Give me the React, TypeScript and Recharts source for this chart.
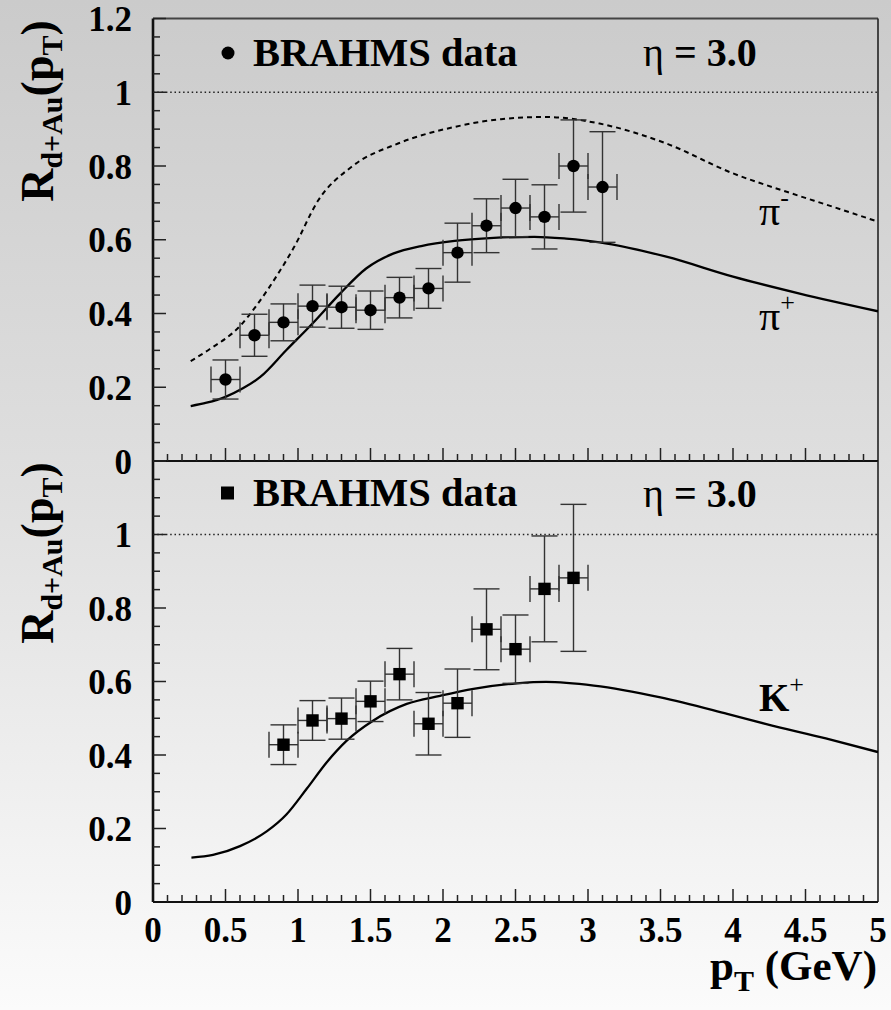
import React from "react";
import { ComposedChart, Line, Scatter, ErrorBar, XAxis, YAxis, ReferenceLine } from "recharts";

// BRAHMS pion points (eta = 3.0)
const pionPt = [0.5, 0.7, 0.9, 1.1, 1.3, 1.5, 1.7, 1.9, 2.1, 2.3, 2.5, 2.7, 2.9, 3.1];
const pionR = [0.221, 0.341, 0.376, 0.42, 0.417, 0.409, 0.443, 0.468, 0.565, 0.638, 0.686, 0.662, 0.8, 0.743];
const pionErr = [0.053, 0.057, 0.05, 0.057, 0.057, 0.052, 0.055, 0.054, 0.08, 0.073, 0.078, 0.087, 0.125, 0.15];

// BRAHMS kaon points
const kaonPt = [0.9, 1.1, 1.3, 1.5, 1.7, 1.9, 2.1, 2.3, 2.5, 2.7, 2.9];
const kaonR = [0.428, 0.494, 0.499, 0.546, 0.62, 0.485, 0.541, 0.742, 0.688, 0.852, 0.882];
const kaonErr = [0.054, 0.054, 0.056, 0.055, 0.07, 0.085, 0.093, 0.11, 0.093, 0.144, 0.2];

const binHalfWidth = 0.1;

// theory curves
const piPlusPt = [0.26, 0.37, 0.5, 0.62, 0.74, 0.92, 1.1, 1.29, 1.47, 1.66, 1.85, 2.08, 2.35, 2.63, 2.85, 3.08, 3.54, 4.0, 4.46, 5.0];
const piPlusR = [0.149, 0.158, 0.174, 0.197, 0.228, 0.301, 0.373, 0.454, 0.522, 0.563, 0.583, 0.597, 0.605, 0.608, 0.603, 0.593, 0.554, 0.5, 0.454, 0.406];

const piMinusPt = [0.26, 0.39, 0.6, 0.72, 0.85, 0.97, 1.14, 1.37, 1.69, 2.08, 2.4, 2.71, 3.08, 3.54, 4.0, 4.37, 4.7, 5.0];
const piMinusR = [0.271, 0.303, 0.366, 0.425, 0.5, 0.578, 0.707, 0.798, 0.861, 0.906, 0.927, 0.933, 0.915, 0.861, 0.78, 0.73, 0.688, 0.649];

const kPlusPt = [0.265, 0.414, 0.6, 0.784, 0.92, 1.06, 1.2, 1.336, 1.52, 1.75, 1.98, 2.21, 2.51, 2.71, 3.04, 3.5, 3.96, 4.23, 4.64, 5.0];
const kPlusR = [0.121, 0.128, 0.152, 0.192, 0.238, 0.308, 0.381, 0.439, 0.494, 0.539, 0.561, 0.58, 0.595, 0.599, 0.589, 0.557, 0.512, 0.484, 0.445, 0.408];

const xTickLabels = ["0", "0.5", "1", "1.5", "2", "2.5", "3", "3.5", "4", "4.5", "5"];
const yTickLabels = ["0", "0.2", "0.4", "0.6", "0.8", "1", "1.2"];

const xTicks = Array.from({ length: 51 }, (_, i) => i / 10);
const yTicks = Array.from({ length: 25 }, (_, i) => i / 20);

const FONT = "'Liberation Serif', 'Times New Roman', serif";
const AXIS = "#111";
const TICK = "#222";

const points = (xs: number[], ys: number[], errs: number[]) =>
  xs.map((x, i) => ({ x, y: ys[i], ey: errs[i], ex: binHalfWidth }));
const curve = (xs: number[], ys: number[]) => xs.map((x, i) => ({ x, y: ys[i] }));

// ticks point inward: tick line drawn up from the axis, label below
const renderXTick = (labels: boolean) => (props: any) => {
  const x = Number(props.x);
  const y = Number(props.y);
  const idx = Math.round(props.payload.value * 10);
  const major = idx % 5 === 0;
  const edge = idx === 0 || idx === 50;
  return (
    <g key={`xt-${idx}`}>
      {!edge && <line x1={x} y1={y} x2={x} y2={y - (major ? 13 : 7)} stroke={TICK} strokeWidth={1.5} />}
      {labels && major ? (
        <text x={x} y={y + 40} textAnchor="middle" fontFamily={FONT} fontWeight="bold" fontSize={35} fill="#000">
          {xTickLabels[idx / 5]}
        </text>
      ) : null}
    </g>
  );
};

const renderYTick = (maxLabel: number) => (props: any) => {
  const x = Number(props.x);
  const y = Number(props.y);
  const idx = Math.round(props.payload.value * 20);
  const major = idx % 4 === 0;
  return (
    <g key={`yt-${idx}`}>
      {idx > 0 && <line x1={x} y1={y} x2={x + (major ? 13 : 7)} y2={y} stroke={TICK} strokeWidth={1.5} />}
      {major && idx / 4 <= maxLabel ? (
        <text x={x - 21} y={y} dy="0.36em" textAnchor="end" fontFamily={FONT} fontWeight="bold" fontSize={35} fill="#000">
          {yTickLabels[idx / 4]}
        </text>
      ) : null}
    </g>
  );
};

const dot = (p: any) => <circle cx={p.cx} cy={p.cy} r={6.2} fill="#000" />;
const square = (p: any) => <rect x={p.cx - 6.2} y={p.cy - 6.2} width={12.4} height={12.4} fill="#000" />;

const Panel = ({ top, height, margin, labelsX, maxLabel, topBorder, children }: any) => (
  <div style={{ position: "absolute", left: 0, top, width: 891, height }}>
    <ComposedChart width={891} height={height} margin={margin}>
      <XAxis
        type="number"
        dataKey="x"
        domain={[0, 5]}
        ticks={xTicks}
        interval={0}
        height={1}
        tickSize={0}
        tickMargin={0}
        tickLine={false}
        axisLine={{ stroke: AXIS, strokeWidth: 2.2 }}
        tick={renderXTick(labelsX)}
        allowDataOverflow
      />
      <YAxis
        type="number"
        dataKey="y"
        domain={[0, 1.2]}
        ticks={yTicks}
        interval={0}
        width={1}
        tickSize={0}
        tickMargin={0}
        tickLine={false}
        axisLine={{ stroke: AXIS, strokeWidth: 2.6 }}
        tick={renderYTick(maxLabel)}
        allowDataOverflow
      />
      <ReferenceLine y={1} stroke="#222" strokeWidth={1.6} strokeDasharray="1.5 2.8" />
      {topBorder && <ReferenceLine y={1.2} stroke="#444" strokeWidth={2} />}
      <ReferenceLine x={5} stroke="#222" strokeWidth={1.6} />
      {children}
    </ComposedChart>
  </div>
);

export default function App() {
  return (
    <div
      style={{
        position: "absolute",
        left: 0,
        top: 0,
        width: 891,
        height: 1010,
        background: "linear-gradient(to bottom, #cbcbcb 0%, #e0e0e0 50%, #fbfbfb 100%)",
        overflow: "hidden",
      }}
    >
      <Panel top={0} height={492} margin={{ top: 18.5, right: 13, bottom: 30, left: 152 }} labelsX={false} maxLabel={6} topBorder>
        <Line
          data={curve(piMinusPt, piMinusR)}
          dataKey="y"
          type="monotone"
          stroke="#000"
          strokeWidth={2}
          strokeDasharray="5 4"
          dot={false}
          isAnimationActive={false}
        />
        <Line
          data={curve(piPlusPt, piPlusR)}
          dataKey="y"
          type="monotone"
          stroke="#000"
          strokeWidth={2.3}
          dot={false}
          isAnimationActive={false}
        />
        <Scatter data={points(pionPt, pionR, pionErr)} dataKey="y" shape={dot} isAnimationActive={false}>
          <ErrorBar dataKey="ey" direction="y" width={13} stroke="#333" strokeWidth={1.4} />
          <ErrorBar dataKey="ex" direction="x" width={13} stroke="#333" strokeWidth={1.4} />
        </Scatter>
      </Panel>
      <Panel top={440} height={570} margin={{ top: 21, right: 13, bottom: 107, left: 152 }} labelsX={true} maxLabel={5} topBorder={false}>
        <Line
          data={curve(kPlusPt, kPlusR)}
          dataKey="y"
          type="monotone"
          stroke="#000"
          strokeWidth={2.3}
          dot={false}
          isAnimationActive={false}
        />
        <Scatter data={points(kaonPt, kaonR, kaonErr)} dataKey="y" shape={square} isAnimationActive={false}>
          <ErrorBar dataKey="ey" direction="y" width={13} stroke="#333" strokeWidth={1.4} />
          <ErrorBar dataKey="ex" direction="x" width={13} stroke="#333" strokeWidth={1.4} />
        </Scatter>
      </Panel>

      {/* titles and annotations */}
      <svg width={891} height={1010} style={{ position: "absolute", left: 0, top: 0, pointerEvents: "none" }}>
        <g fontFamily={FONT} fill="#000">
          <circle cx={228} cy={53} r={6.5} />
          <text x={253} y={66} fontWeight="bold" fontSize={40.5}>BRAHMS data</text>
          <text x={643} y={66} fontSize={40}>
            η<tspan fontWeight="bold"> = 3.0</tspan>
          </text>

          <rect x={221} y={486.5} width={13} height={13} />
          <text x={253} y={506} fontWeight="bold" fontSize={40.5}>BRAHMS data</text>
          <text x={643} y={507} fontSize={40}>
            η<tspan fontWeight="bold"> = 3.0</tspan>
          </text>

          <text x={759} y={225} fontSize={42}>
            π<tspan fontSize={26} dy={-19}>-</tspan>
          </text>
          <text x={759} y={330} fontSize={42}>
            π<tspan fontSize={26} dy={-19}>+</tspan>
          </text>
          <text x={759} y={711} fontSize={39} fontWeight="bold">
            K<tspan fontSize={26} fontWeight="normal" dy={-18}>+</tspan>
          </text>

          <text transform="translate(53,111) rotate(-90)" textAnchor="middle" fontWeight="bold" fontSize={46}>
            R<tspan fontSize={30} dy={9}>d+Au</tspan>
            <tspan fontSize={46} dy={-9}>(p</tspan>
            <tspan fontSize={30} dy={9}>T</tspan>
            <tspan fontSize={46} dy={-9}>)</tspan>
          </text>
          <text transform="translate(53,553) rotate(-90)" textAnchor="middle" fontWeight="bold" fontSize={46}>
            R<tspan fontSize={30} dy={9}>d+Au</tspan>
            <tspan fontSize={46} dy={-9}>(p</tspan>
            <tspan fontSize={30} dy={9}>T</tspan>
            <tspan fontSize={46} dy={-9}>)</tspan>
          </text>

          <text x={877} y={980} textAnchor="end" fontWeight="bold" fontSize={43}>
            p<tspan fontSize={30} dy={11}>T</tspan>
            <tspan fontSize={43} dy={-11}> (GeV)</tspan>
          </text>
        </g>
      </svg>
    </div>
  );
}
